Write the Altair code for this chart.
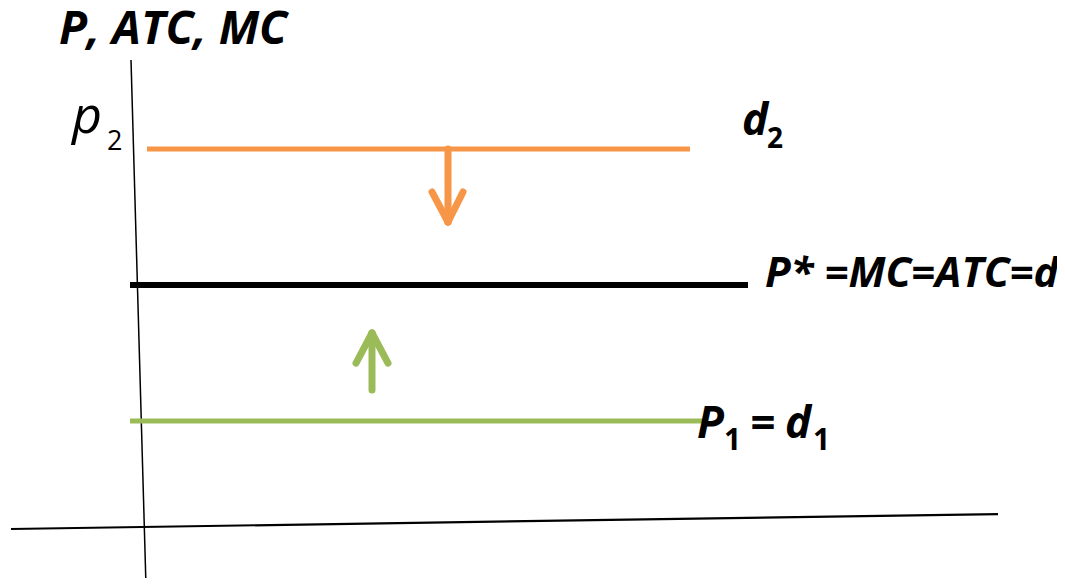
import altair as alt
import pandas as pd

# ---- data (diagram units: q = quantity, v = price level) ----
level_p1 = 1.0
level_pstar = 2.0
level_p2 = 3.0

# horizontal price/demand lines
line_names = ["d2", "pstar", "d1"]
line_q_start = [0.07, -0.10, -0.10]
line_q_end = [5.50, 6.08, 5.65]
line_level = [level_p2, level_pstar, level_p1]
line_colors = ["#F79646", "#000000", "#9BBB59"]
line_widths = [5, 6, 5]

# axes (hand-drawn, slightly tilted)
axis_q_start = [-0.09, -1.29]
axis_v_start = [3.654, 0.206]
axis_q_end = [0.06, 8.58]
axis_v_end = [-0.213, 0.316]
axis_widths = [1.5, 2.2]

# arrows: shaft + two head strokes each
arrow_q_start = [3.08, 2.92, 3.23, 2.32, 2.16, 2.48]
arrow_v_start = [3.00, 2.684, 2.684, 1.228, 1.426, 1.426]
arrow_q_end = [3.08, 3.08, 3.08, 2.32, 2.32, 2.32]
arrow_v_end = [2.463, 2.463, 2.463, 1.647, 1.647, 1.647]
arrow_colors = ["#F79646"] * 3 + ["#9BBB59"] * 3

# labels
bi_text = ["P, ATC, MC", "d", "P* =MC=ATC=d", "P", "=", "d"]
bi_q = [-0.81, 6.02, 6.25, 5.57, 6.10, 6.45]
bi_v = [3.772, 3.103, 1.985, 0.875, 0.875, 0.875]
bi_size = [46, 44, 42, 44, 44, 44]

it_text = ["p"]
it_q = [-0.68]
it_v = [3.118]
it_size = [52]

sub_text = ["2", "1", "1"]
sub_q = [6.27, 5.84, 6.73]
sub_v = [3.007, 0.787, 0.787]
sub_size = [28, 30, 30]

sub2_text = ["2"]
sub2_q = [-0.33]
sub2_v = [2.993]
sub2_size = [27]

W, H = 1049, 570
xs = alt.Scale(domain=[-1.32, 9.17], nice=False, zero=False)
ys = alt.Scale(domain=[-0.1544, 4.0368], nice=False, zero=False)

def seg_layer(df, cap="butt"):
    return alt.Chart(df).mark_rule(strokeCap=cap).encode(
        x=alt.X("q1:Q", scale=xs, axis=None),
        x2="q2:Q",
        y=alt.Y("v1:Q", scale=ys, axis=None),
        y2="v2:Q",
        color=alt.Color("c:N", scale=None),
        strokeWidth=alt.StrokeWidth("w:Q", scale=None),
    )

lines_df = pd.DataFrame({"q1": line_q_start, "q2": line_q_end, "v1": line_level,
                         "v2": line_level, "c": line_colors, "w": line_widths})
axes_df = pd.DataFrame({"q1": axis_q_start, "q2": axis_q_end, "v1": axis_v_start,
                        "v2": axis_v_end, "c": ["#000000"] * 2, "w": axis_widths})
arrows_df = pd.DataFrame({"q1": arrow_q_start, "q2": arrow_q_end, "v1": arrow_v_start,
                          "v2": arrow_v_end, "c": arrow_colors, "w": [7] * 6})

def text_layer(texts, qs, vs, sizes, style, weight):
    df = pd.DataFrame({"t": texts, "q": qs, "v": vs, "s": sizes})
    return alt.Chart(df).mark_text(align="left", baseline="alphabetic", font="Open Sans",
                                   fontStyle=style, fontWeight=weight, color="#000000").encode(
        x=alt.X("q:Q", scale=xs, axis=None),
        y=alt.Y("v:Q", scale=ys, axis=None),
        text="t:N",
        size=alt.Size("s:Q", scale=None),
    )

chart = alt.layer(
    seg_layer(axes_df),
    seg_layer(lines_df),
    seg_layer(arrows_df, cap="round"),
    text_layer(bi_text, bi_q, bi_v, bi_size, "italic", "bold"),
    text_layer(it_text, it_q, it_v, it_size, "italic", "normal"),
    text_layer(sub_text, sub_q, sub_v, sub_size, "normal", "bold"),
    text_layer(sub2_text, sub2_q, sub2_v, sub2_size, "normal", "normal"),
).properties(
    width=W, height=H, padding=0,
    autosize=alt.AutoSizeParams(type="none"),
    background="#ffffff",
).configure_view(stroke=None)

chart.save("out.html", embed_options={"renderer": "svg", "actions": False})
